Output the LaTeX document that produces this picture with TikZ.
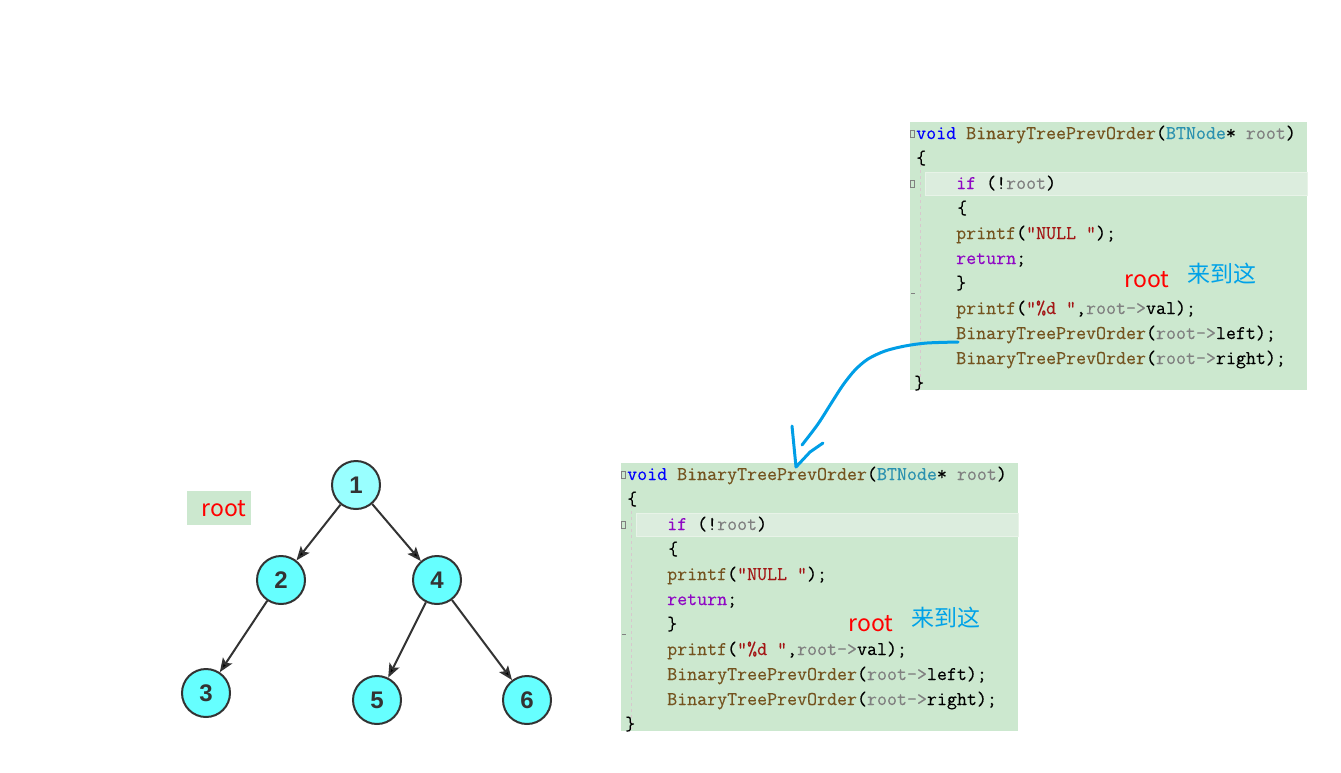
\documentclass[tikz,border=0pt]{standalone}
\usepackage{fontspec}
\newfontfamily\cjkfont{Noto Sans CJK SC}
\newfontfamily\numfont{Liberation Sans}
\newfontfamily\codefont{Latin Modern Mono}[FakeBold=0.3,UprightFeatures={FakeBold=0.3}]
\usetikzlibrary{arrows.meta}

\definecolor{codebg}{RGB}{204,232,207}
\definecolor{rowbg}{RGB}{220,237,222}
\definecolor{rowline}{RGB}{232,243,232}
\definecolor{guide}{RGB}{215,200,205}
\definecolor{kwblue}{RGB}{0,0,255}
\definecolor{fnbrown}{RGB}{116,83,31}
\definecolor{tyteal}{RGB}{43,145,175}
\definecolor{pargray}{RGB}{128,128,128}
\definecolor{ctlpurple}{RGB}{143,8,196}
\definecolor{strred}{RGB}{163,21,21}
\definecolor{markred}{RGB}{255,0,0}
\definecolor{markblue}{RGB}{0,162,232}
\definecolor{penblue}{RGB}{0,158,230}
\definecolor{treedark}{RGB}{51,51,51}
\definecolor{treecyan}{RGB}{102,255,255}
\definecolor{treelight}{RGB}{153,255,255}

\tikzset{
	% tree nodes: light root, cyan children
	tree node/.style={circle,draw=treedark,line width=2pt,fill=treecyan,
		minimum size=48pt,inner sep=0,text=treedark,font=\numfont\bfseries\fontsize{24}{24}\selectfont},
	tree edge/.style={draw=treedark,line width=2pt,-{Stealth[length=14pt,width=11pt,inset=3pt]}},
	code line/.style={anchor=base west,inner sep=0,font=\codefont\fontsize{19.4}{25}\selectfont},
	mark word/.style={inner sep=0,text=markred,font=\cjkfont\fontsize{23}{23}\selectfont},
	mark cjk/.style={inner sep=0,text=markblue,font=\cjkfont\fontsize{23}{23}\selectfont},
	hand pen/.style={draw=penblue,line width=3pt,line cap=round,line join=round}
}

% one code window, #1 = prefix of the names, #2 = top left corner
\newcommand\codeblock[2]{%
\begin{scope}[shift={#2}]
\fill[codebg] (0,0) rectangle (397,268);
\filldraw[fill=rowbg,draw=rowline,line width=1pt] (15,50) rectangle (397,73);
\draw[guide,line width=0.8pt,dash pattern=on 3pt off 3pt] (10,36) -- (10,266);
\draw[pargray,line width=0.6pt] (0,8) rectangle (4,15) (0,58) rectangle (4,65);
\draw[pargray,line width=0.6pt] (1,171) -- (5,171);
\node[code line] (#1l0) at (6,17) {\textcolor{kwblue}{void} \textcolor{fnbrown}{BinaryTreePrevOrder}(\textcolor{tyteal}{BTNode}* \textcolor{pargray}{root})};
\node[code line] (#1l1) at (6,42) {\{};
\node[code line] (#1l2) at (46,67) {\textcolor{ctlpurple}{if} (!\textcolor{pargray}{root})};
\node[code line] (#1l3) at (47,92) {\{};
\node[code line] (#1l4) at (46,117) {\textcolor{fnbrown}{printf}(\textcolor{strred}{"NULL "});};
\node[code line] (#1l5) at (46,142) {\textcolor{ctlpurple}{return};};
\node[code line] (#1l6) at (46,167) {\}};
\node[code line] (#1l7) at (46,192) {\textcolor{fnbrown}{printf}(\textcolor{strred}{"\%d "},\textcolor{pargray}{root->}val);};
\node[code line] (#1l8) at (46,217) {\textcolor{fnbrown}{BinaryTreePrevOrder}(\textcolor{pargray}{root->}left);};
\node[code line] (#1l9) at (46,242) {\textcolor{fnbrown}{BinaryTreePrevOrder}(\textcolor{pargray}{root->}right);};
\node[code line] (#1l10) at (4,267) {\}};
\end{scope}}

\begin{document}
\begin{tikzpicture}[x=1pt,y=-1pt]
\useasboundingbox (0,0) rectangle (1341,772);

% the two code windows
\codeblock{up}{(910,122)}
\codeblock{low}{(621,463)}

\node[mark word] (upwho) at (1147,280) {root};
\node[mark cjk] (uphere) at (1222,274) {来到这};
\node[mark word] (lowwho) at (871,624) {root};
\node[mark cjk] (lowhere) at (946,618) {来到这};

% hand drawn arrow from the left call to the next window
\coordinate (from) at (958,342);
\coordinate (tip) at (796,467);
\draw[hand pen] plot[smooth,tension=0.5] coordinates {(from) (927,343) (905,346) (885,351) (868,359) (855,370) (843,385) (832,402) (818,424) (802,445)};
\draw[hand pen] (792,426) -- (tip) -- (810,452) -- (823,443);

% the tree
\node[tree node,fill=treelight] (n1) at (356,485) {1};
\node[tree node] (n2) at (281,580) {2};
\node[tree node] (n4) at (437,580) {4};
\node[tree node] (n3) at (206,693) {3};
\node[tree node] (n5) at (377,700) {5};
\node[tree node] (n6) at (527,700) {6};

\node[fill=codebg,minimum width=64pt,minimum height=34pt,inner sep=0] (rootbg) at (219,508) {};
\node[mark word] (rootlbl) at (224,509) {root};

\path[tree edge] (n1) edge (n2)
          (n1) edge (n4)
          (n2) edge (n3)
          (n4) edge (n5)
          (n4) edge (n6);

\end{tikzpicture}
\end{document}
